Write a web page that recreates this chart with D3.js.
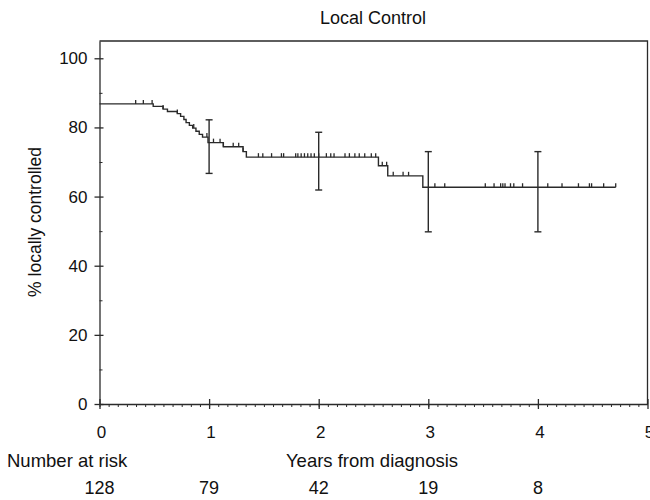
<!DOCTYPE html>
<html>
<head>
<meta charset="utf-8">
<script src="https://cdn.jsdelivr.net/npm/d3@7"></script>
<style>
  body { margin: 0; background: #fff; }
  text { font-family: "Liberation Sans", Arial, sans-serif; fill: #111; }
</style>
</head>
<body>
<svg id="chart" width="650" height="500"></svg>
<script>
// KM step curve (years, % locally controlled)
const stepTimes = [0, 0.49, 0.58, 0.62, 0.71, 0.74, 0.77, 0.79, 0.82, 0.85, 0.88, 0.91, 0.94, 0.99, 1.13, 1.31, 1.34, 2.545, 2.63, 2.95];
const stepValues = [86.8, 86.1, 85.3, 84.6, 84.0, 83.2, 82.3, 81.4, 80.6, 79.8, 78.9, 78.0, 77.2, 75.6, 74.4, 73.0, 71.4, 68.9, 66.0, 62.7];
const lastTime = 4.71;

// censored observations
const censorTimes = [0.33, 0.40, 0.48, 0.58, 0.71, 0.86, 0.98, 1.04, 1.10, 1.13, 1.22, 1.27, 1.31, 1.45, 1.49, 1.57,
  1.66, 1.68, 1.79, 1.81, 1.84, 1.87, 1.90, 1.93, 1.96, 2.00, 2.07, 2.11, 2.14, 2.24, 2.28, 2.33, 2.37, 2.42, 2.48, 2.52,
  2.58, 2.62, 2.68, 2.77, 2.82, 3.06, 3.15, 3.52, 3.60, 3.66, 3.68, 3.70, 3.75, 3.78, 3.86, 4.09, 4.22, 4.37, 4.47, 4.49,
  4.60, 4.71];

// confidence intervals
const ciTimes = [1, 2, 3, 4];
const ciLower = [66.7, 61.9, 49.8, 49.8];
const ciUpper = [82.2, 78.6, 73.0, 73.0];

// axis ticks / labels
const xTicks = [0, 1, 2, 3, 4, 5];
const yTicks = [0, 20, 40, 60, 80, 100];
const yMinor = [10, 30, 50, 70, 90];
const atRiskTimes = [0, 1, 2, 3, 4];
const atRisk = [128, 79, 42, 19, 8];

const svg = d3.select("#chart");
const ink = "#2a2a2a";

const x = d3.scaleLinear().domain([0, 5]).range([99.5, 647.5]);
const y = d3.scaleLinear().domain([0, 105]).range([404, 41]);

// frame (top + right)
svg.append("path")
  .attr("d", `M${x(0)},${y(105)}H${x(5)}V${y(0)}`)
  .attr("fill", "none").attr("stroke", ink).attr("stroke-width", 1.3);

// x axis - minor monthly ticks
svg.append("g")
  .attr("transform", `translate(0,${y(0)})`)
  .call(d3.axisBottom(x).tickValues(d3.range(0, 60).map(i => i / 12)).tickSize(3).tickFormat(""))
  .call(g => g.select(".domain").remove())
  .call(g => g.selectAll("line").attr("stroke", ink));

// x axis - major
const xAxis = svg.append("g")
  .attr("transform", `translate(0,${y(0)})`)
  .call(d3.axisBottom(x).tickValues(xTicks).tickSize(5).tickPadding(17).tickSizeOuter(0).tickFormat(d3.format("d")));
xAxis.select(".domain").attr("stroke", ink).attr("stroke-width", 1.3);
xAxis.selectAll(".tick line").attr("y1", -5).attr("stroke", ink).attr("stroke-width", 1.3);
xAxis.selectAll("text").attr("font-size", 17).attr("fill", "#111").attr("dx", 1.5)
  .attr("font-family", "Liberation Sans, Arial, sans-serif");

// y axis - minor ticks inward
svg.append("g")
  .attr("transform", `translate(${x(0)},0)`)
  .call(d3.axisRight(y).tickValues(yMinor).tickSize(3).tickFormat(""))
  .call(g => g.select(".domain").remove())
  .call(g => g.selectAll("line").attr("stroke", ink));

// y axis - major
const yAxis = svg.append("g")
  .attr("transform", `translate(${x(0)},0)`)
  .call(d3.axisLeft(y).tickValues(yTicks).tickSize(5).tickPadding(7).tickSizeOuter(0));
yAxis.select(".domain").attr("stroke", ink).attr("stroke-width", 1.3);
yAxis.selectAll(".tick line").attr("x1", 4).attr("stroke", ink).attr("stroke-width", 1.3);
yAxis.selectAll("text").attr("font-size", 17).attr("fill", "#111")
  .attr("font-family", "Liberation Sans, Arial, sans-serif");

// KM curve
const km = stepTimes.map((t, i) => [t, stepValues[i]]);
km.push([lastTime, stepValues[stepValues.length - 1]]);
svg.append("path")
  .datum(km)
  .attr("fill", "none")
  .attr("stroke", ink)
  .attr("stroke-width", 1.4)
  .attr("d", d3.line().x(d => x(d[0])).y(d => y(d[1])).curve(d3.curveStepAfter));

// censor marks
const levelAt = t => stepValues[Math.max(0, d3.bisectRight(stepTimes, t) - 1)];
svg.append("g")
  .selectAll("line")
  .data(censorTimes)
  .join("line")
  .attr("x1", d => x(d)).attr("x2", d => x(d))
  .attr("y1", d => y(levelAt(d)) - 4)
  .attr("y2", d => y(levelAt(d)))
  .attr("stroke", ink).attr("stroke-width", 1.3);

// error bars
const ci = ciTimes.map((t, i) => ({ t, lo: ciLower[i], hi: ciUpper[i] }));
const bars = svg.append("g").attr("stroke", ink).attr("stroke-width", 1.4);
bars.selectAll(".v").data(ci).join("line")
  .attr("x1", d => x(d.t)).attr("x2", d => x(d.t))
  .attr("y1", d => y(d.lo)).attr("y2", d => y(d.hi));
bars.selectAll(".top").data(ci).join("line")
  .attr("x1", d => x(d.t) - 3.5).attr("x2", d => x(d.t) + 3.5)
  .attr("y1", d => y(d.hi)).attr("y2", d => y(d.hi));
bars.selectAll(".bot").data(ci).join("line")
  .attr("x1", d => x(d.t) - 3.5).attr("x2", d => x(d.t) + 3.5)
  .attr("y1", d => y(d.lo)).attr("y2", d => y(d.lo));

// title and labels
svg.append("text")
  .attr("x", 373).attr("y", 24)
  .attr("text-anchor", "middle").attr("font-size", 18)
  .text("Local Control");

svg.append("text")
  .attr("transform", "translate(35,222) rotate(-90)")
  .attr("dy", "0.35em")
  .attr("text-anchor", "middle").attr("font-size", 17.5)
  .text("% locally controlled");

svg.append("text")
  .attr("x", 7).attr("y", 467)
  .attr("font-size", 18.5)
  .text("Number at risk");

svg.append("text")
  .attr("x", 372).attr("y", 467)
  .attr("text-anchor", "middle").attr("font-size", 18.5)
  .text("Years from diagnosis");

svg.append("g")
  .selectAll("text")
  .data(atRiskTimes)
  .join("text")
  .attr("x", d => x(d))
  .attr("y", 494)
  .attr("text-anchor", "middle").attr("font-size", 18)
  .text((d, i) => atRisk[i]);
</script>
</body>
</html>
